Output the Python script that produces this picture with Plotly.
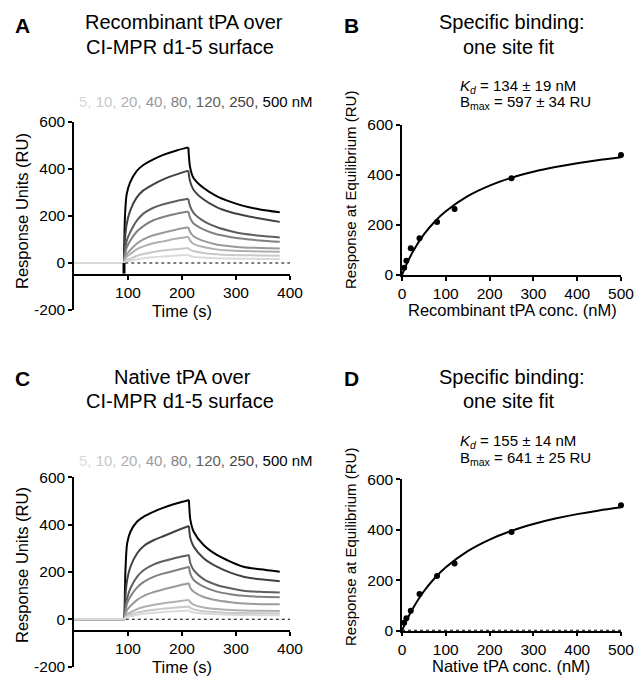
import plotly.graph_objects as go

# ---------------- data ----------------
CONC_LABELS = ["5", "10", "20", "40", "80", "120", "250", "500"]
CONC_NM = [5, 10, 20, 40, 80, 120, 250, 500]

# Sensorgram (panel A, recombinant tPA)
TIME_A = [0, 92.6, 94.4, 97.5, 103.7, 116, 128.4, 147, 165.4, 190, 211.7,
          214.8, 221, 239.5, 264, 289, 313.6, 344.4, 381]
RU_A = {
    "5":   [0, 0, 3, 6, 9, 15, 20, 25, 28, 32, 35, 31, 27, 23, 20, 19, 18, 17.5, 17],
    "10":  [0, 0, 6, 12, 18, 30, 38, 47, 53, 59, 64, 57, 51, 43, 37, 34, 33, 32, 31],
    "20":  [0, 0, 12, 26, 37, 58, 71, 84, 92, 104, 112, 96, 82, 68, 58, 53, 51, 49, 48],
    "40":  [0, 0, 20, 37, 54, 82, 101, 118, 129, 143, 152, 133, 115, 94, 79, 71, 66, 64, 62],
    "80":  [0, 0, 35, 65, 94, 133, 157, 182, 196, 210, 219, 193, 169, 143, 122, 111, 103, 96, 90],
    "120": [0, 0, 50, 94, 129, 179, 210, 235, 250, 264, 273, 243, 214, 179, 153, 136, 124, 116, 109],
    "250": [0, 0, 100, 165, 221, 278, 309, 335, 356, 377, 393, 349, 313, 271, 238, 217, 203, 189, 175],
    "500": [0, 0, 200, 292, 342, 391, 417, 441, 460, 479, 492, 410, 363, 320, 285, 261, 243, 228, 216],
}
SPIKE_T = [92.6, 92.6]
SPIKE_RU = [0, -45]

# Sensorgram (panel C, native tPA)
TIME_C = [0, 93.5, 95.3, 98.4, 104.5, 117, 129.3, 148, 166.3, 191, 212.8,
          215.5, 221.7, 240, 264.5, 289.5, 314, 345, 381]
RU_C = {
    "5":   [0, 0, 5, 9, 13, 19, 23, 28, 31, 34, 37, 33, 29, 24, 21, 19, 18, 17.5, 17],
    "10":  [0, 0, 7, 13, 19, 28, 34, 40, 45, 50, 54, 48, 42, 34, 30, 27, 26, 25, 24],
    "20":  [0, 0, 10, 20, 29, 43, 52, 61, 68, 75, 82, 72, 62, 50, 43, 39, 37, 36, 35],
    "40":  [0, 0, 20, 39, 56, 82, 99, 115, 127, 141, 152, 132, 116, 94, 80, 72, 67, 64, 63],
    "80":  [0, 0, 35, 68, 96, 135, 158, 180, 194, 208, 222, 192, 166, 138, 117, 106, 99, 95, 93],
    "120": [0, 0, 50, 89, 131, 180, 208, 232, 246, 261, 272, 237, 208, 170, 145, 131, 121, 116, 113],
    "250": [0, 0, 100, 166, 222, 279, 310, 335, 352, 375, 394, 342, 307, 258, 222, 197, 180, 169, 161],
    "500": [0, 0, 208, 321, 370, 413, 434, 455, 472, 490, 504, 420, 370, 314, 272, 244, 222, 211, 201],
}
PEAK_INDEX = 10
ZERO_T_A = [95, 400]
ZERO_T_C = [96, 400]
ZERO_RU = [0, 0]

# Equilibrium binding (panels B and D)
REQ_B = [29, 57, 107, 147, 212, 264, 387, 480]
REQ_D = [32, 49, 79, 145, 217, 266, 391, 497]
FIT_X = [0, 10, 25, 50, 75, 100, 150, 200, 250, 300, 350, 400, 450, 500]
FIT_B = [0, 41.5, 93.9, 162.2, 214.2, 255.1, 315.3, 357.5, 388.7, 412.7, 431.7, 447.2, 460.0, 470.9]
FIT_D = [0, 38.8, 89.0, 156.3, 209.0, 251.4, 315.2, 361.1, 395.7, 422.6, 444.3, 462.0, 476.8, 489.3]
ZERO_X_D = [0, 500]

KD_B, KD_B_ERR, BMAX_B, BMAX_B_ERR = 134, 19, 597, 34
KD_D, KD_D_ERR, BMAX_D, BMAX_D_ERR = 155, 14, 641, 25

SENSO_Y_TICKS = [-200, 0, 200, 400, 600]
SENSO_Y_TICKTEXT = ["-200", "0", "200", "400", "600"]
SENSO_X_TICKS = [100, 200, 300, 400]
BIND_X_TICKS = [0, 100, 200, 300, 400, 500]
BIND_Y_TICKS = [0, 200, 400, 600]
X_AXIS_CROSS = -50

# ---------------- style ----------------
SHADES = ["#dadada", "#c8c8c8", "#b0b0b0", "#9a9a9a", "#808080", "#5e5e5e", "#424242", "#000000"]
FONT = "Liberation Sans, Arial, Helvetica, sans-serif"
W, H = 634, 678


def px(xp):
    return xp / W


def py(yp):
    return 1 - yp / H


fig = go.Figure()

DOM = {
    "A": dict(x=[px(74), px(290)], y=[py(310), py(122)]),
    "C": dict(x=[px(74), px(290)], y=[py(666.6), py(477.3)]),
    "B": dict(x=[px(402), px(621)], y=[py(275), py(125)]),
    "D": dict(x=[px(402), px(621)], y=[py(630.7), py(479.3)]),
}
AX = {"A": ("x", "y"), "B": ("x2", "y2"), "C": ("x3", "y3"), "D": ("x4", "y4")}


def add_senso(panel, times, data, zero_t, spike=False):
    xa, ya = AX[panel]
    for lab, col in zip(reversed(CONC_LABELS), reversed(SHADES)):
        vals = data[lab]
        fig.add_trace(go.Scatter(x=times[:2], y=vals[:2], mode="lines",
                                 line=dict(color=col, width=2), xaxis=xa, yaxis=ya,
                                 showlegend=False, hoverinfo="skip"))
        fig.add_trace(go.Scatter(x=times[1:PEAK_INDEX + 1], y=vals[1:PEAK_INDEX + 1], mode="lines",
                                 line=dict(color=col, width=2, shape="spline", smoothing=0.7),
                                 xaxis=xa, yaxis=ya, showlegend=False, hoverinfo="skip"))
        fig.add_trace(go.Scatter(x=times[PEAK_INDEX:], y=vals[PEAK_INDEX:], mode="lines",
                                 line=dict(color=col, width=2, shape="spline", smoothing=0.7),
                                 xaxis=xa, yaxis=ya, showlegend=False, hoverinfo="skip"))
    fig.add_trace(go.Scatter(x=zero_t, y=ZERO_RU, mode="lines",
                             line=dict(color="black", width=1, dash="dot"),
                             xaxis=xa, yaxis=ya, showlegend=False, hoverinfo="skip"))
    if spike:
        fig.add_trace(go.Scatter(x=SPIKE_T, y=SPIKE_RU, mode="lines",
                                 line=dict(color="black", width=3),
                                 xaxis=xa, yaxis=ya, showlegend=False, hoverinfo="skip",
                                 cliponaxis=False))


def add_bind(panel, req, fit, dotted_zero=False):
    xa, ya = AX[panel]
    if dotted_zero:
        fig.add_trace(go.Scatter(x=ZERO_X_D, y=[0, 0], mode="lines",
                                 line=dict(color="black", width=2, dash="dot"),
                                 xaxis=xa, yaxis=ya, showlegend=False, hoverinfo="skip",
                                 cliponaxis=False))
    fig.add_trace(go.Scatter(x=FIT_X, y=fit, mode="lines",
                             line=dict(color="black", width=2, shape="spline", smoothing=0.8),
                             xaxis=xa, yaxis=ya, showlegend=False, hoverinfo="skip",
                             cliponaxis=False))
    fig.add_trace(go.Scatter(x=CONC_NM, y=req, mode="markers",
                             marker=dict(color="black", size=6),
                             xaxis=xa, yaxis=ya, showlegend=False, hoverinfo="skip",
                             cliponaxis=False))


add_senso("A", TIME_A, RU_A, ZERO_T_A, spike=True)
add_senso("C", TIME_C, RU_C, ZERO_T_C)
add_bind("B", REQ_B, FIT_B)
add_bind("D", REQ_D, FIT_D, dotted_zero=True)

tickfont = dict(family=FONT, size=15.5, color="black")
common = dict(showline=True, linecolor="black", linewidth=1.5, ticks="outside",
              ticklen=4, tickwidth=1.5, tickcolor="black", showgrid=False,
              zeroline=False, tickfont=tickfont, automargin=False,
              ticklabeloverflow="allow")

layout = dict(
    template="none",
    width=W, height=H, margin=dict(l=0, r=0, t=0, b=0, pad=0),
    paper_bgcolor="white", plot_bgcolor="rgba(0,0,0,0)",
    font=dict(family=FONT, color="black"),
    showlegend=False,
)

for panel, key in (("A", ""), ("B", "2"), ("C", "3"), ("D", "4")):
    d = DOM[panel]
    if panel in ("A", "C"):
        y0, y1 = d["y"]
        pos = y0 + (X_AXIS_CROSS - SENSO_Y_TICKS[0]) / (SENSO_Y_TICKS[-1] - SENSO_Y_TICKS[0]) * (y1 - y0)
        layout["xaxis" + key] = dict(domain=d["x"], range=[0, 400], anchor="free", position=pos,
                                     tickvals=SENSO_X_TICKS, **common)
        layout["yaxis" + key] = dict(domain=d["y"], range=[SENSO_Y_TICKS[0], SENSO_Y_TICKS[-1]],
                                     anchor="x" + key, tickvals=SENSO_Y_TICKS,
                                     ticktext=SENSO_Y_TICKTEXT, **common)
    else:
        layout["xaxis" + key] = dict(domain=d["x"], range=[0, 500], anchor="y" + key,
                                     tickvals=BIND_X_TICKS, **common)
        layout["yaxis" + key] = dict(domain=d["y"], range=[0, 600], anchor="x" + key,
                                     tickvals=BIND_Y_TICKS, **common)

fig.update_layout(**layout)


def ann(text, x, y, size, xanchor="center", angle=0, bold=False):
    if bold:
        text = "<b>" + text + "</b>"
    fig.add_annotation(text=text, x=px(x), y=py(y), xref="paper", yref="paper",
                       xanchor=xanchor, yanchor="middle", showarrow=False,
                       textangle=angle, font=dict(family=FONT, size=size, color="black"))


# panel letters
ann("A", 22, 25, 21, bold=True)
ann("B", 351, 25, 21, bold=True)
ann("C", 22, 378, 21, bold=True)
ann("D", 351, 378, 21, bold=True)

# titles
ann("Recombinant tPA over", 184, 22, 20)
ann("CI-MPR d1-5 surface", 180, 47, 20)
ann("Native tPA over", 182, 377, 20)
ann("CI-MPR d1-5 surface", 180, 401, 20)
ann("Specific binding:", 512, 22, 20)
ann("one site fit", 509, 47, 20)
ann("Specific binding:", 512, 377, 20)
ann("one site fit", 509, 401, 20)

# concentration key
key_parts = []
for i, (lab, col) in enumerate(zip(CONC_LABELS, SHADES)):
    sep = ", " if i < len(CONC_LABELS) - 1 else " nM"
    key_parts.append(f'<span style="color:{col}">{lab}{sep}</span>')
key_text = "".join(key_parts)
ann(key_text, 196, 101, 15)
ann(key_text, 196, 460, 15)

# fit parameters
ann(f"<i>K</i><sub><i>d</i></sub> = {KD_B} ± {KD_B_ERR} nM", 458, 86, 15, xanchor="left")
ann(f"B<sub>max</sub> = {BMAX_B} ± {BMAX_B_ERR} RU", 458, 103, 15, xanchor="left")
ann(f"<i>K</i><sub><i>d</i></sub> = {KD_D} ± {KD_D_ERR} nM", 458, 441, 15, xanchor="left")
ann(f"B<sub>max</sub> = {BMAX_D} ± {BMAX_D_ERR} RU", 458, 458, 15, xanchor="left")

# axis titles
ann("Response Units (RU)", 22, 211, 16.5, angle=-90)
ann("Time (s)", 182, 311, 16.5)
ann("Response Units (RU)", 22, 565, 16.5, angle=-90)
ann("Time (s)", 182, 667, 16.5)
ann("Response at Equilibrium (RU)", 350, 190, 15, angle=-90)
ann("Recombinant tPA conc. (nM)", 512, 310, 16.5)
ann("Response at Equilibrium (RU)", 350, 547, 15, angle=-90)
ann("Native tPA conc. (nM)", 511, 666, 16.5)

POST = (
    "document.documentElement.style.margin='0';"
    "document.body.style.margin='0';"
    "document.body.style.overflow='hidden';"
)

fig.write_html("out.html", config={"displayModeBar": False}, post_script=POST)
